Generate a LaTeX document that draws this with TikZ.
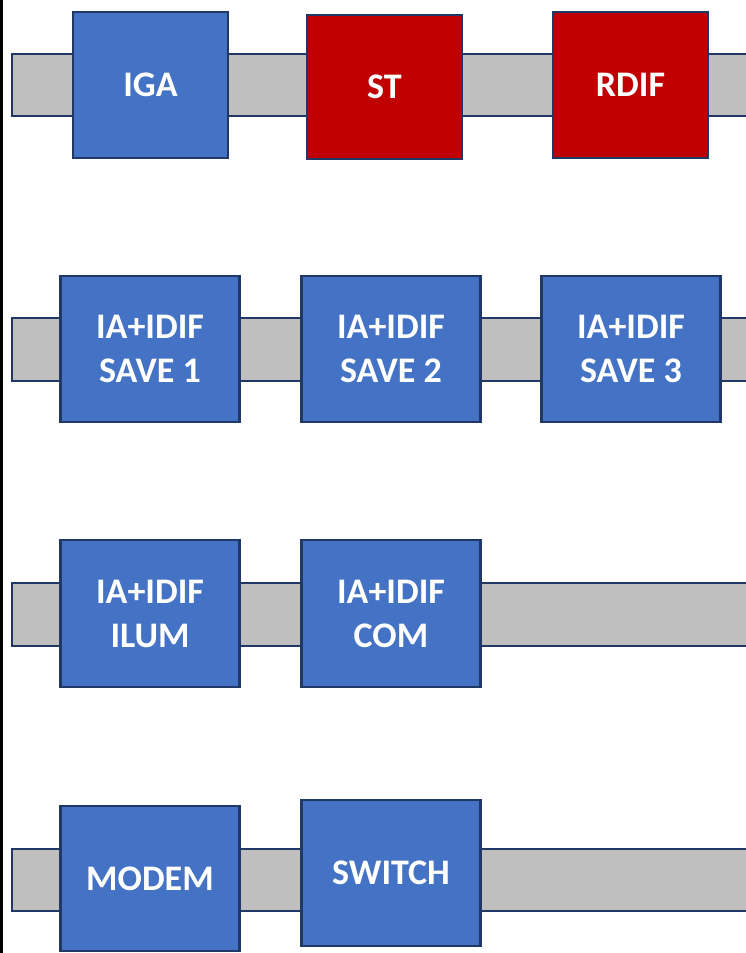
\documentclass[tikz,border=0pt]{standalone}
\usepackage{fontspec}
\setmainfont{Carlito}
\definecolor{boxblue}{HTML}{4472C4}
\definecolor{boxred}{HTML}{C00000}
\definecolor{bargray}{HTML}{BFBFBF}
\definecolor{edgenavy}{HTML}{1F3864}
\tikzset{
  bar/.style={fill=bargray,draw=edgenavy,line width=2bp},
  blk/.style={draw=edgenavy,line width=2.4bp,text=white,
    font=\fontsize{36bp}{44bp}\selectfont\bfseries,align=center,inner sep=0pt},
  bluebox/.style={blk,fill=boxblue},
  redbox/.style={blk,fill=boxred},
  wide/.style={minimum width=155bp},
  wider/.style={minimum width=179bp}
}
\begin{document}
\begin{tikzpicture}[x=1bp,y=-1bp]
\useasboundingbox (0,0) rectangle (746,953);
\clip (0,0) rectangle (746,953);
\fill[white] (0,0) rectangle (746,953);
\fill[black] (0,0) rectangle (3,953);
% bars
\draw[bar] (12,54) rectangle (770,116);
\draw[bar] (12,318) rectangle (770,381);
\draw[bar] (12,583) rectangle (770,646);
\draw[bar] (12,849) rectangle (770,911);
% row 1
\node[bluebox,wide,minimum height=146bp] (iga) at (150.5,85) {IGA};
\node[redbox,wide,minimum height=144bp] (st) at (384.3,87) {ST};
\node[redbox,wide,minimum height=146bp] (rdif) at (630.5,85) {RDIF};
% row 2
\node[bluebox,wider,minimum height=146bp] (save1) at (150,349) {IA+IDIF\\SAVE 1};
\node[bluebox,wider,minimum height=146bp] (save2) at (391,349) {IA+IDIF\\SAVE 2};
\node[bluebox,wider,minimum height=146bp] (save3) at (631,349) {IA+IDIF\\SAVE 3};
% row 3
\node[bluebox,wider,minimum height=147bp] (ilum) at (150,613.5) {IA+IDIF\\ILUM};
\node[bluebox,wider,minimum height=147bp] (com) at (391,613.5) {IA+IDIF\\COM};
% row 4
\node[bluebox,wider,minimum height=145bp] (modem) at (150,878.5) {MODEM};
\node[bluebox,wider,minimum height=146bp] (switch) at (391,873) {SWITCH};
\end{tikzpicture}
\end{document}
